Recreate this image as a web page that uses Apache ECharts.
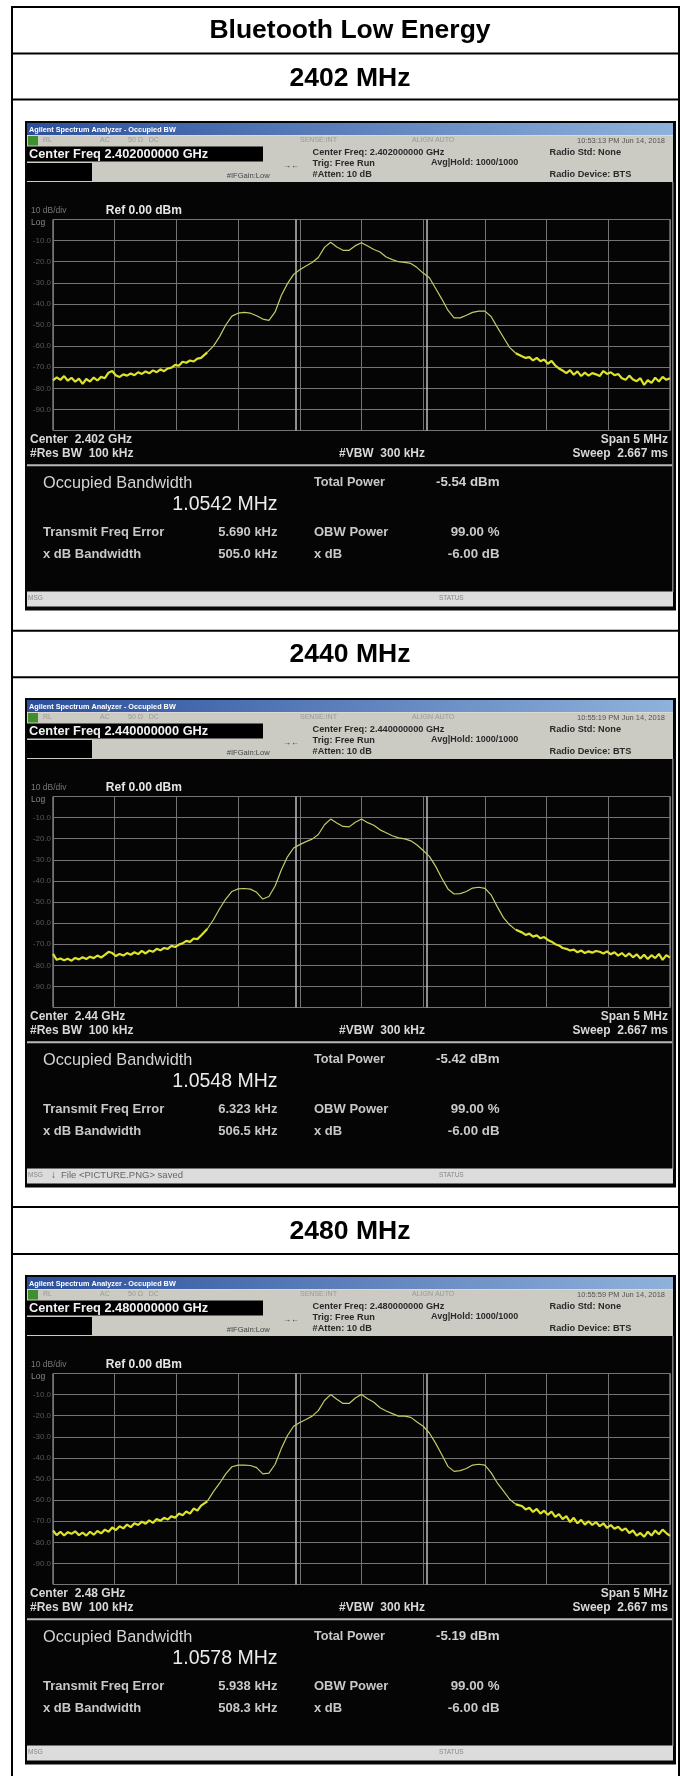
<!DOCTYPE html>
<html><head><meta charset="utf-8">
<style>html,body{margin:0;padding:0;background:#fff}#c{width:680px;height:1776px}</style>
<script src="https://cdn.jsdelivr.net/npm/echarts@6/dist/echarts.min.js"></script>
</head><body><div id="c"></div>
<script>
// ---------- data ----------
const tableTitle = 'Bluetooth Low Energy';
const channelTitles = ['2402 MHz', '2440 MHz', '2480 MHz'];
const centerFreqText = ['2.402000000', '2.440000000', '2.480000000'];
const centerShort = ['2.402 GHz', '2.44 GHz', '2.48 GHz'];
const timestamps = ['10:53:13 PM Jun 14, 2018', '10:55:19 PM Jun 14, 2018', '10:55:59 PM Jun 14, 2018'];
const occupiedBw = [1.0542, 1.0548, 1.0578];
const totalPower = ['-5.54 dBm', '-5.42 dBm', '-5.19 dBm'];
const freqError = ['5.690 kHz', '6.323 kHz', '5.938 kHz'];
const xdbBandwidth = ['505.0 kHz', '506.5 kHz', '508.3 kHz'];
const statusMsg = ['', 'File <PICTURE.PNG> saved', ''];

const freqOffsets = [
 -2.50,-2.47,-2.44,-2.41,-2.38,-2.35,-2.32,-2.29,-2.26,-2.23,
 -2.20,-2.17,-2.14,-2.11,-2.08,-2.05,-2.02,-1.99,-1.96,-1.93,
 -1.90,-1.87,-1.84,-1.81,-1.78,-1.75,-1.72,-1.69,-1.66,-1.63,
 -1.60,-1.57,-1.54,-1.51,-1.48,-1.45,-1.42,-1.39,-1.36,-1.33,-1.30,
 -1.25,-1.20,-1.15,-1.10,-1.05,-1.00,-0.95,-0.90,-0.85,-0.80,
 -0.75,-0.70,-0.65,-0.60,-0.55,-0.50,-0.45,-0.40,-0.35,-0.30,
 -0.25,-0.20,-0.15,-0.10,-0.05,0,0.05,0.10,0.15,0.20,
 0.25,0.30,0.35,0.40,0.45,0.50,0.55,0.60,0.65,0.70,
 0.75,0.80,0.85,0.90,0.95,1.00,1.05,1.10,1.15,1.20,1.25,
 1.30,1.33,1.36,1.39,1.42,1.45,1.48,1.51,1.54,1.57,
 1.60,1.63,1.66,1.69,1.72,1.75,1.78,1.81,1.84,1.87,
 1.90,1.93,1.96,1.99,2.02,2.05,2.08,2.11,2.14,2.17,
 2.20,2.23,2.26,2.29,2.32,2.35,2.38,2.41,2.44,2.47,2.50];

const trace2402 = [
 -76.2,-74.8,-76.0,-74.2,-76.4,-75.0,-76.9,-75.4,-77.9,-75.6,
 -76.8,-74.9,-76.3,-74.6,-75.2,-72.6,-71.8,-73.9,-74.6,-73.4,
 -74.0,-73.0,-73.8,-72.4,-73.2,-72.0,-72.9,-71.5,-72.4,-71.0,
 -71.9,-70.6,-70.2,-68.9,-69.3,-67.4,-67.9,-66.8,-67.3,-65.9,-65.6,
 -63.0,-60.0,-55.5,-50.0,-45.8,-44.4,-44.0,-44.4,-45.6,-47.2,
 -47.8,-43.8,-36.0,-30.4,-26.0,-23.8,-22.0,-20.4,-18.0,-13.2,
 -10.8,-13.0,-14.6,-14.6,-12.4,-11.0,-12.6,-14.2,-15.4,-17.8,
 -19.0,-20.0,-20.3,-20.8,-22.8,-25.4,-27.6,-32.6,-37.6,-43.0,
 -46.6,-46.6,-45.4,-44.0,-43.4,-43.4,-46.0,-51.0,-55.8,-60.6,-63.4,
 -64.8,-65.6,-65.2,-66.8,-65.6,-67.2,-66.4,-68.4,-67.0,-69.2,
 -70.6,-71.6,-72.8,-71.4,-73.6,-72.0,-74.2,-72.6,-74.0,-72.8,
 -73.4,-74.2,-71.8,-73.2,-72.4,-73.8,-73.2,-75.2,-76.0,-74.0,
 -75.8,-76.6,-75.2,-78.4,-76.2,-77.4,-75.0,-76.8,-74.6,-76.0,-75.2];

const trace2440 = [
 -74.6,-77.4,-76.8,-77.6,-76.9,-77.8,-76.5,-77.2,-76.2,-77.0,
 -75.9,-76.6,-75.4,-76.3,-75.1,-73.6,-74.2,-75.6,-74.6,-75.4,
 -74.2,-75.0,-73.8,-74.7,-73.2,-74.4,-73.0,-73.6,-72.2,-72.9,
 -71.8,-72.2,-70.8,-71.3,-70.2,-69.6,-68.4,-68.9,-67.3,-67.6,-65.9,
 -62.8,-58.4,-53.2,-48.6,-45.0,-43.8,-43.6,-43.9,-45.4,-48.6,
 -47.4,-42.4,-34.8,-28.6,-24.4,-22.8,-21.4,-20.2,-18.0,-13.4,
 -10.7,-12.6,-14.2,-14.4,-12.2,-10.7,-12.4,-13.6,-15.8,-17.2,
 -18.6,-19.6,-20.1,-21.0,-23.0,-25.6,-28.4,-33.0,-38.6,-43.8,
 -46.2,-46.0,-45.0,-43.4,-43.0,-43.5,-46.6,-52.2,-57.4,-60.8,-63.2,
 -64.4,-65.6,-65.0,-66.4,-65.8,-67.2,-66.6,-68.0,-68.8,-70.0,
 -70.6,-71.8,-72.2,-73.0,-72.6,-73.8,-73.0,-74.2,-73.4,-74.0,
 -73.2,-73.6,-74.4,-73.4,-74.8,-73.8,-75.4,-74.2,-75.8,-74.4,
 -76.2,-74.8,-76.8,-75.0,-77.0,-75.2,-76.6,-74.6,-77.4,-75.2,-76.4];

const trace2480 = [
 -74.4,-76.6,-75.0,-76.8,-75.2,-76.0,-74.8,-76.6,-75.4,-76.8,
 -75.0,-76.4,-74.6,-75.8,-74.0,-75.0,-73.0,-74.2,-72.4,-73.4,
 -71.6,-72.8,-71.0,-71.8,-70.2,-71.2,-69.6,-70.8,-69.0,-69.8,
 -68.4,-69.2,-67.6,-68.4,-66.4,-67.2,-65.4,-66.4,-64.0,-65.0,-62.6,
 -60.6,-56.0,-52.0,-47.6,-44.2,-43.4,-43.4,-43.6,-44.6,-47.6,
 -47.2,-43.0,-35.6,-29.4,-25.0,-23.2,-21.8,-20.2,-17.6,-12.8,
 -10.0,-12.2,-14.2,-14.2,-11.6,-9.9,-12.0,-13.6,-16.2,-17.8,
 -19.0,-20.2,-20.2,-20.8,-23.0,-25.0,-28.2,-33.0,-38.4,-44.0,
 -46.4,-46.0,-45.0,-43.4,-43.0,-43.4,-47.0,-51.8,-55.6,-59.6,-62.0,
 -62.8,-64.4,-63.6,-65.6,-64.2,-66.4,-65.0,-67.0,-65.4,-68.0,
 -66.6,-69.0,-67.6,-70.4,-68.4,-71.0,-69.4,-71.6,-70.0,-71.8,
 -70.4,-72.4,-71.0,-73.2,-71.8,-73.6,-72.6,-74.4,-73.4,-75.6,
 -74.4,-76.8,-75.6,-77.4,-75.0,-76.8,-74.4,-76.2,-74.0,-75.6,-77.0];

const traces = [trace2402, trace2440, trace2480];
const panelOffsets = [0, 577, 1154];
const titleYs = [78.3, 654.3, 1231.7];
const ruleYs = [7, 53.5, 99.5, 630.7, 677.3, 1207, 1254];
// last point of the noisy left skirt and first point of the noisy right skirt
const skirtEnd = 41, skirtStart = 91;

// ---------- drawing ----------
const FF = '"Liberation Sans", Arial, sans-serif';
const gfx = [];
function T(x, y, text, size, color, o) {
  o = o || {};
  gfx.push({ type: 'text', x: x, y: y, silent: true, style: {
    text: text, fill: color, font: (o.bold ? 'bold ' : '') + size + 'px ' + FF,
    textAlign: o.align || 'left', textVerticalAlign: 'middle' } });
}
function R(x, y, w, h, fill) {
  gfx.push({ type: 'rect', silent: true, shape: { x: x, y: y, width: w, height: h }, style: { fill: fill } });
}
R(11, 6, 2, 1770, '#000');
R(678, 6, 2, 1770, '#000');
ruleYs.forEach(y => R(11, y - 1, 669, 2, '#000'));
T(350, 30.7, tableTitle, 26.5, '#000', { bold: true, align: 'center' });
channelTitles.forEach((t, i) => T(350, titleYs[i], t, 26.5, '#000', { bold: true, align: 'center' }));

const grids = [], xAxes = [], yAxes = [], series = [];
traces.forEach((tr, i) => {
  const d = panelOffsets[i];
  R(25, 121 + d, 651, 489.5, '#050505');
  R(27, 123 + d, 646, 12, { type: 'linear', x: 0, y: 0, x2: 1, y2: 0, colorStops: [{ offset: 0, color: '#2c4f9c' }, { offset: 1, color: '#8fb2dc' }] });
  R(27, 135 + d, 646, 47, '#cbcbc4');
  R(27, 146.5 + d, 236, 15, '#000');
  R(27, 163 + d, 65, 18, '#000');
  R(28, 136 + d, 10, 9.5, '#3f8f2f');
  R(27, 135 + d, 646, 0.6, '#e8e8e8');
  T(29, 129.5 + d, 'Agilent Spectrum Analyzer - Occupied BW', 7.3, '#fff', { bold: true });
  [[43, 'RL'], [100, 'AC'], [128, '50 Ω   DC'], [300, 'SENSE:INT'], [412, 'ALIGN AUTO']].forEach(p => T(p[0], 140.5 + d, p[1], 7, '#9a9a94'));
  T(665, 140.5 + d, timestamps[i], 7.5, '#55554f', { align: 'right' });
  T(29, 154.5 + d, 'Center Freq ' + centerFreqText[i] + ' GHz', 12.8, '#f2f2f2', { bold: true });
  T(312.6, 152 + d, 'Center Freq: ' + centerFreqText[i] + ' GHz', 9.2, '#2a2a2a', { bold: true });
  T(312.6, 163 + d, 'Trig: Free Run', 9.2, '#2a2a2a', { bold: true });
  T(431, 163 + d, 'Avg|Hold: 1000/1000', 9, '#2a2a2a', { bold: true });
  T(312.6, 174.5 + d, '#Atten: 10 dB', 9.2, '#2a2a2a', { bold: true });
  T(226.7, 176 + d, '#IFGain:Low', 7.6, '#444', {});
  T(283, 165.7 + d, '\u2192\u2190', 8, '#333', {});
  T(549.6, 152 + d, 'Radio Std: None', 9.2, '#2a2a2a', { bold: true });
  T(549.6, 174.5 + d, 'Radio Device: BTS', 9.2, '#2a2a2a', { bold: true });
  T(31, 211 + d, '10 dB/div', 8.5, '#777');
  T(105.8, 211 + d, 'Ref 0.00 dBm', 12, '#e6e6e6', { bold: true });
  T(31, 222.5 + d, 'Log', 8.5, '#888');
  T(30, 439.3 + d, 'Center  ' + centerShort[i], 12, '#d8d8d8', { bold: true });
  T(30, 453.5 + d, '#Res BW  100 kHz', 12, '#d8d8d8', { bold: true });
  T(339, 453.5 + d, '#VBW  300 kHz', 12, '#d8d8d8', { bold: true });
  T(668, 439.3 + d, 'Span 5 MHz', 12, '#d8d8d8', { bold: true, align: 'right' });
  T(668, 453.5 + d, 'Sweep  2.667 ms', 12, '#d8d8d8', { bold: true, align: 'right' });
  R(27, 464.3 + d, 646, 2, '#b8b8b8');
  R(672, 182 + d, 1.5, 410, '#777');
  T(43, 483.5 + d, 'Occupied Bandwidth', 16.3, '#d4d4d4');
  T(277.5, 504.5 + d, occupiedBw[i].toFixed(4) + ' MHz', 19.5, '#ececec', { align: 'right' });
  T(314, 482 + d, 'Total Power', 12.7, '#c8c8c8', { bold: true });
  T(499.5, 482 + d, totalPower[i], 13.3, '#d0d0d0', { bold: true, align: 'right' });
  T(43, 532 + d, 'Transmit Freq Error', 13, '#c8c8c8', { bold: true });
  T(277.5, 532 + d, freqError[i], 13, '#c8c8c8', { bold: true, align: 'right' });
  T(314, 532 + d, 'OBW Power', 13, '#c8c8c8', { bold: true });
  T(499.5, 532 + d, '99.00 %', 13.3, '#c8c8c8', { bold: true, align: 'right' });
  T(43, 554 + d, 'x dB Bandwidth', 13, '#c8c8c8', { bold: true });
  T(277.5, 554 + d, xdbBandwidth[i], 13, '#c8c8c8', { bold: true, align: 'right' });
  T(314, 554 + d, 'x dB', 13, '#c8c8c8', { bold: true });
  T(499.5, 554 + d, '-6.00 dB', 13.3, '#c8c8c8', { bold: true, align: 'right' });
  R(27, 591.5 + d, 646, 15, '#dcdcdc');
  T(28, 598.5 + d, 'MSG', 6.5, '#888');
  T(439, 598.5 + d, 'STATUS', 6.5, '#888');
  if (statusMsg[i]) {
    T(51, 598.5 + d, '\u2193', 10, '#3a55b0', { bold: true });
    T(61, 598.5 + d, statusMsg[i], 9.5, '#666');
  }
  grids.push({ left: 53, width: 617, top: 219.5 + d, height: 211, show: true, backgroundColor: 'transparent', borderColor: '#b0b0b0', borderWidth: 1, z: 3 });
  xAxes.push({ type: 'value', gridIndex: i, min: -2.5, max: 2.5, interval: 0.5, z: 3,
    axisLine: { show: false }, axisTick: { show: false }, axisLabel: { show: false },
    splitLine: { show: true, lineStyle: { color: '#757575', width: 1 } } });
  yAxes.push({ type: 'value', gridIndex: i, min: -100, max: 0, interval: 10, z: 3,
    axisLine: { show: false }, axisTick: { show: false },
    axisLabel: { show: true, color: '#5a5a5a', fontSize: 8, fontFamily: FF, margin: 2,
      formatter: v => (v === 0 || v === -100) ? '' : v.toFixed(1) },
    splitLine: { show: true, lineStyle: { color: '#757575', width: 1 } } });
  const pts = tr.map((v, k) => [freqOffsets[k], v]);
  series.push({ type: 'line', name: channelTitles[i], xAxisIndex: i, yAxisIndex: i, z: 6, showSymbol: false, silent: true,
    data: pts.slice(skirtEnd, skirtStart + 1), lineStyle: { width: 1.2, color: '#c6ca68' },
    markLine: { silent: true, symbol: 'none', animation: false, label: { show: false }, z: 5,
      lineStyle: { type: 'solid', color: '#bdbdbd', width: 1.5 },
      data: [{ xAxis: -occupiedBw[i] / 2 }, { xAxis: occupiedBw[i] / 2 }] } });
  [pts.slice(0, skirtEnd + 1), pts.slice(skirtStart)].forEach((part, k) => series.push({
    type: 'line', name: channelTitles[i] + (k ? ' upper' : ' lower'), xAxisIndex: i, yAxisIndex: i, z: 7, showSymbol: false, silent: true,
    data: part, lineStyle: { width: 2.2, color: '#dde32a' } }));
});

const chart = echarts.init(document.getElementById('c'), null, { renderer: 'canvas', width: 680, height: 1776 });
chart.setOption({
  animation: false, backgroundColor: '#fff',
  graphic: { z: -1, elements: gfx },
  grid: grids, xAxis: xAxes, yAxis: yAxes, series: series
});
</script></body></html>
